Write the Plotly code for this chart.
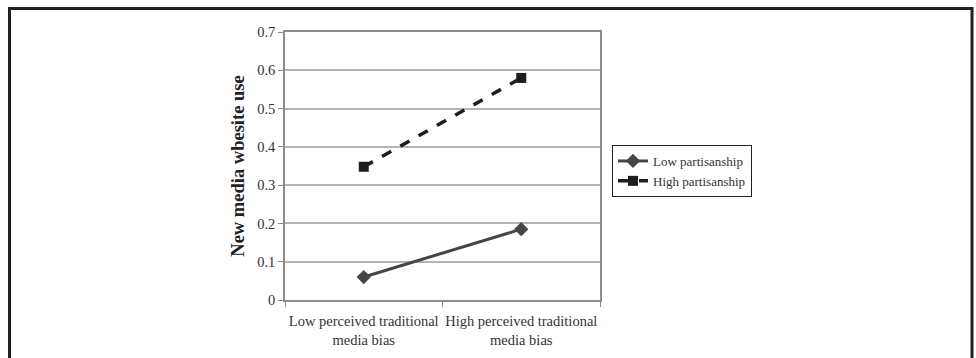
import plotly.graph_objects as go

categories = ["Low perceived traditional<br>media bias", "High perceived traditional<br>media bias"]
low_partisanship = [0.06, 0.185]
high_partisanship = [0.348, 0.58]
y_ticks = [0, 0.1, 0.2, 0.3, 0.4, 0.5, 0.6, 0.7]
y_tick_labels = ["0", "0.1", "0.2", "0.3", "0.4", "0.5", "0.6", "0.7"]

FONT = "Liberation Serif, Times New Roman, serif"

fig = go.Figure()
fig.add_trace(go.Scatter(
    x=categories, y=low_partisanship, name="Low partisanship",
    mode="lines+markers",
    line=dict(color="#454545", width=3),
    marker=dict(symbol="diamond", size=11, color="#454545"),
))
fig.add_trace(go.Scatter(
    x=categories, y=high_partisanship, name="High partisanship",
    mode="lines+markers",
    line=dict(color="#1e1e1e", width=3.5, dash="dash"),
    marker=dict(symbol="square", size=10, color="#1e1e1e"),
))

L, R, T, B = 285, 376, 32, 58
W, H = 976, 358
pw, ph = W - L - R, H - T - B

def px_x(px):
    return (px - L) / pw

def px_y(py):
    return (H - B - py) / ph

fig.add_shape(type="path", xref="paper", yref="paper",
              path=f"M {px_x(9.5)} {px_y(380)} L {px_x(9.5)} {px_y(8.5)} L {px_x(972)} {px_y(8.5)} L {px_x(972)} {px_y(380)}",
              line=dict(color="#202020", width=3))

fig.update_layout(
    width=W, height=H,
    margin=dict(l=L, r=R, t=T, b=B, autoexpand=False),
    paper_bgcolor="white", plot_bgcolor="white",
    font=dict(family=FONT, size=14, color="#333333"),
    showlegend=True,
    legend=dict(
        x=px_x(612), y=px_y(145), xanchor="left", yanchor="top",
        bordercolor="#202020", borderwidth=1, bgcolor="white",
        font=dict(family=FONT, size=13, color="#333333"),
        tracegroupgap=0, itemwidth=30,
    ),
    xaxis=dict(
        type="category", range=[-0.5, 1.5], automargin=False, tickangle=0,
        showgrid=False, showline=True, linecolor="#8c8c8c", linewidth=1.5,
        mirror=True, ticks="outside", tickson="boundaries", ticklen=5,
        ticklabelstandoff=7,
        tickcolor="#8c8c8c", tickfont=dict(family=FONT, size=14.5, color="#333333"),
        zeroline=False,
    ),
    yaxis=dict(
        range=[0, 0.7], tickvals=y_ticks, ticktext=y_tick_labels, automargin=False,
        showgrid=True, gridcolor="#b4b4b4", gridwidth=1.5,
        showline=True, linecolor="#8c8c8c", linewidth=1.5, mirror=True,
        ticks="outside", ticklen=5, tickcolor="#8c8c8c",
        tickfont=dict(family=FONT, size=14.5, color="#333333"),
        zeroline=False,
        title=dict(text="<b>New media wbesite use</b>", standoff=8,
                   font=dict(family=FONT, size=18.5, color="#222222")),
    ),
)

fig.write_html("out.html", config={"displayModeBar": False},
               post_script="document.body.style.margin='0';")
